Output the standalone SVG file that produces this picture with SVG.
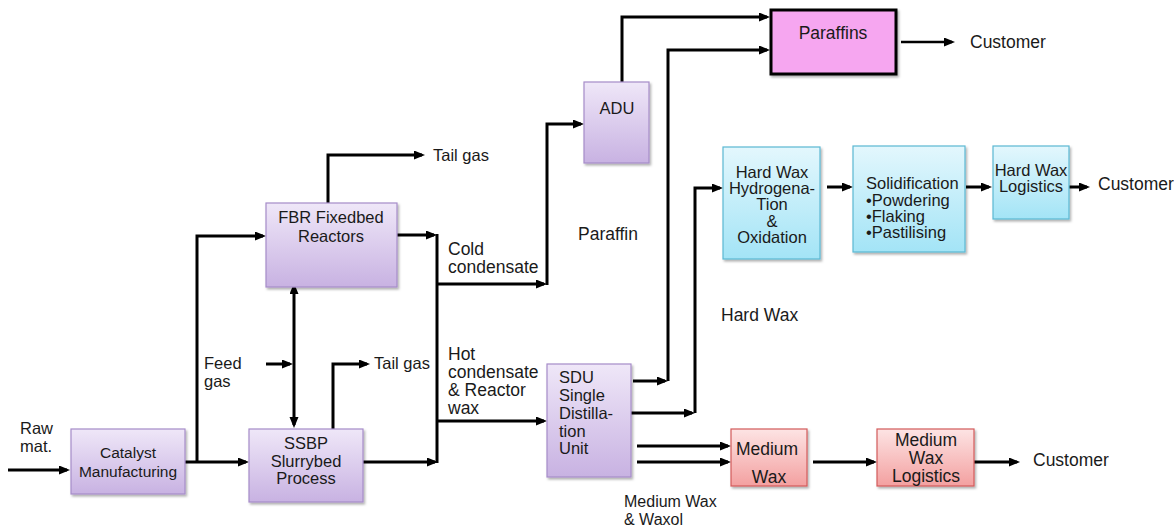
<svg xmlns="http://www.w3.org/2000/svg" width="1174" height="530" viewBox="0 0 1174 530">
<defs>
<linearGradient id="gPurple" x1="0" y1="0" x2="0" y2="1"><stop offset="0" stop-color="#efe7f8"/><stop offset="1" stop-color="#c8b2e2"/></linearGradient>
<linearGradient id="gBlue" x1="0" y1="0" x2="0" y2="1"><stop offset="0" stop-color="#e3f7fd"/><stop offset="1" stop-color="#a3e4f6"/></linearGradient>
<linearGradient id="gPink" x1="0" y1="0" x2="0" y2="1"><stop offset="0" stop-color="#fde4e4"/><stop offset="1" stop-color="#f3a0a0"/></linearGradient>
<filter id="sh" x="-10%" y="-10%" width="125%" height="125%"><feDropShadow dx="1.5" dy="2" stdDeviation="1.2" flood-color="#000" flood-opacity="0.3"/></filter>
<marker id="ah" markerUnits="userSpaceOnUse" markerWidth="12" markerHeight="10" refX="8" refY="4.5" orient="auto"><path d="M0,0 L11,4.5 L0,9 z" fill="#000"/></marker>
<marker id="as" markerUnits="userSpaceOnUse" markerWidth="12" markerHeight="10" refX="3" refY="4.5" orient="auto-start-reverse"><path d="M0,0 L11,4.5 L0,9 z" fill="#000"/></marker>
<style>
text{font-family:"Liberation Sans",Arial,sans-serif;fill:#1a1a1a;font-size:16.5px}
.c{text-anchor:middle}
.p{fill:url(#gPurple);stroke:#a68cc9;stroke-width:1.2;filter:url(#sh)}
.b{fill:url(#gBlue);stroke:#5bb8d3;stroke-width:1.2;filter:url(#sh)}
.k{fill:url(#gPink);stroke:#d25a5a;stroke-width:1.2;filter:url(#sh)}
.ln{fill:none;stroke:#000;stroke-width:3}
.a{marker-end:url(#ah)}
.big{font-size:17.5px}
</style>
</defs>
<rect width="1174" height="530" fill="#fff"/>

<g id="connectors">
<path class="ln a" d="M8 470 H67"/>
<path class="ln a" d="M185 462 H246"/>
<path class="ln a" d="M197 462 V236 H263"/>
<path class="ln a" d="M328 203 V155 H422"/>
<path class="ln" d="M294 291 V425" marker-start="url(#as)" marker-end="url(#ah)"/>
<path class="ln a" d="M266 364 H290"/>
<path class="ln a" d="M333 429 V364 H367"/>
<path class="ln a" d="M363 462 H435"/>
<path class="ln a" d="M397 235 H434"/>
<path class="ln" d="M437 234 V463"/>
<path class="ln a" d="M438 284 H544"/>
<path class="ln a" d="M547 285 V124 H581"/>
<path class="ln a" d="M438 421 H544"/>
<path class="ln a" d="M622 82 V17 H767"/>
<path class="ln a" d="M633 381 H665"/>
<path class="ln a" d="M668 381 V50 H767"/>
<path class="ln a" d="M627 413 H692"/>
<path class="ln a" d="M695 413 V188 H720"/>
<path class="ln a" d="M827 187 H850"/>
<path class="ln a" d="M966 187 H989"/>
<path class="ln a" d="M1068 187 H1087"/>
<path class="ln a" d="M637 446 H728"/>
<path class="ln a" d="M637 462 H728"/>
<path class="ln a" d="M813 462 H874"/>
<path class="ln a" d="M974 462 H1017"/>
<path class="ln a" d="M901 42 H952" style="stroke-width:2.5"/>
</g>

<g id="labels">
<text x="20" y="434">Raw</text>
<text x="20" y="452">mat.</text>
<text x="433" y="161">Tail gas</text>
<text x="204" y="369">Feed</text>
<text x="204" y="387">gas</text>
<text x="374" y="369">Tail gas</text>
<text x="448" y="255" class="big">Cold</text>
<text x="448" y="273" class="big">condensate</text>
<text x="448" y="360" class="big">Hot</text>
<text x="448" y="378" class="big">condensate</text>
<text x="448" y="396" class="big">&amp; Reactor</text>
<text x="448" y="414" class="big">wax</text>
<text x="578" y="240" class="big">Paraffin</text>
<text x="721" y="321" class="big">Hard Wax</text>
<text x="624" y="507" style="font-size:16px">Medium Wax</text>
<text x="624" y="525" style="font-size:16px">&amp; Waxol</text>
<text x="970" y="48" class="big">Customer</text>
<text x="1098" y="190" class="big">Customer</text>
<text x="1033" y="466" class="big">Customer</text>
</g>

<g id="catalyst">
<rect class="p" x="71" y="429" width="114" height="65"/>
<text class="c" x="128" y="458" style="font-size:15.5px">Catalyst</text>
<text class="c" x="128" y="477" style="font-size:15.5px">Manufacturing</text>
</g>

<g id="fbr">
<rect class="p" x="266" y="203" width="131" height="84"/>
<text class="c" x="331" y="223">FBR Fixedbed</text>
<text class="c" x="331" y="242">Reactors</text>
</g>

<g id="ssbp">
<rect class="p" x="249" y="429" width="114" height="73"/>
<text class="c" x="306" y="449">SSBP</text>
<text class="c" x="306" y="467">Slurrybed</text>
<text class="c" x="306" y="484">Process</text>
</g>

<g id="adu">
<rect class="p" x="584" y="82" width="65" height="81"/>
<text class="c" x="617" y="114">ADU</text>
</g>

<g id="sdu">
<rect class="p" x="547" y="364" width="84" height="113"/>
<text x="559" y="383">SDU</text>
<text x="559" y="401">Single</text>
<text x="559" y="419">Distilla-</text>
<text x="559" y="437">tion</text>
<text x="559" y="454">Unit</text>
</g>

<g id="paraffins">
<rect x="771" y="10" width="125" height="64" fill="#f6a6f0" stroke="#000" stroke-width="3" filter="url(#sh)"/>
<text class="c big" x="833" y="39">Paraffins</text>
</g>

<g id="hydrogenation">
<rect class="b" x="723" y="147" width="97" height="112"/>
<text class="c" x="772" y="178">Hard Wax</text>
<text class="c" x="772" y="194">Hydrogena-</text>
<text class="c" x="772" y="210">Tion</text>
<text class="c" x="772" y="227">&amp;</text>
<text class="c" x="772" y="243">Oxidation</text>
</g>

<g id="solidification">
<rect class="b" x="853" y="146" width="112" height="106"/>
<text x="866" y="189">Solidification</text>
<text x="866" y="206">•Powdering</text>
<text x="866" y="222">•Flaking</text>
<text x="866" y="238">•Pastilising</text>
</g>

<g id="hardwaxlogistics">
<rect class="b" x="993" y="146" width="76" height="73"/>
<text class="c" x="1031" y="176">Hard Wax</text>
<text class="c" x="1031" y="192">Logistics</text>
</g>

<g id="mediumwax">
<rect class="k" x="731" y="429" width="76" height="57"/>
<text class="c big" x="767" y="455">Medium</text>
<text class="c big" x="769" y="483">Wax</text>
</g>

<g id="mediumwaxlogistics">
<rect class="k" x="877" y="429" width="97" height="57"/>
<text class="c big" x="926" y="446">Medium</text>
<text class="c big" x="926" y="464">Wax</text>
<text class="c big" x="926" y="482">Logistics</text>
</g>
</svg>
